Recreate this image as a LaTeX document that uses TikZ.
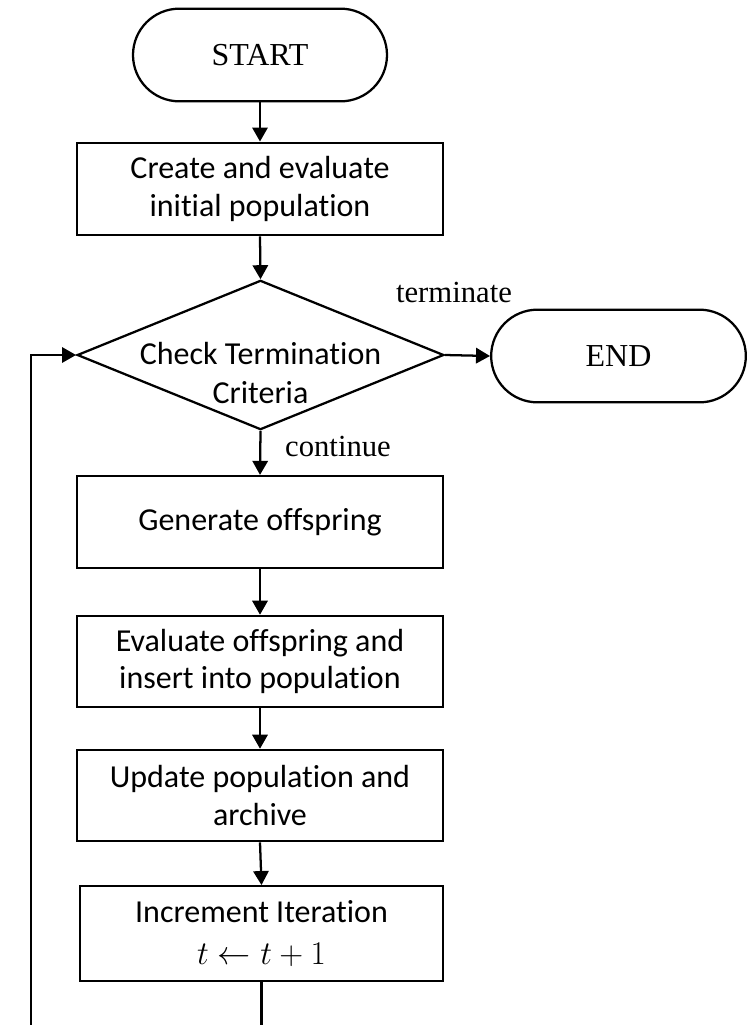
\documentclass[tikz,border=0pt]{standalone}
\usepackage{fontspec}
\setmainfont{Liberation Serif}
\newfontfamily\boxfont[Ligatures=NoCommon]{Carlito}
\usetikzlibrary{shapes.misc,shapes.geometric,arrows.meta}
\begin{document}
\begin{tikzpicture}[x=0.75pt,y=-0.75pt,
  line width=1.7pt,
  flow/.style={-{Triangle[length=10.5pt,width=11.5pt]}},
  terminal/.style={draw,rounded rectangle,rounded rectangle arc length=180,
    minimum width=190.5pt,minimum height=69.5pt,inner sep=0pt,font=\fontsize{24}{28}\selectfont},
  stepbox/.style={draw,rectangle,minimum width=274.5pt,minimum height=69.5pt,inner sep=0pt,
    align=center,font=\boxfont\fontsize{24}{28}\selectfont},
  decision/.style={draw,diamond,minimum width=275pt,minimum height=112pt,inner sep=0pt},
  tag/.style={font=\fontsize{23}{27}\selectfont,inner sep=0pt}]
\useasboundingbox (0,0) rectangle (749,1025);

% nodes
\node[terminal] (start) at (260,55) {START};
\node[stepbox] (init) at (260,189) {Create and evaluate\\initial population};
\node[decision] (check) at (260.5,355) {};
\node[align=center,font=\boxfont\fontsize{24}{29}\selectfont] (checktext) at (260.5,373) {Check Termination\\Criteria};
\node[terminal,minimum width=191pt] (end) at (618.5,356) {END};
\node[stepbox,minimum height=69pt] (gen) at (260,522) {Generate offspring};
\node[stepbox,minimum height=68.5pt] (evalo) at (260,661.5) {Evaluate offspring and\\insert into population};
\node[stepbox,minimum height=68.5pt] (upd) at (260,795.5) {Update population and\\archive};
\node[stepbox,minimum width=272.5pt,minimum height=71pt] (inc) at (261.5,933.5)
  {Increment Iteration\\[3pt]{\fontsize{26}{28}\selectfont$t \leftarrow t+1$}};

% labels on the branches
\node[tag,anchor=base] (termlab) at (454,302) {terminate};
\node[tag,anchor=base] (contlab) at (338,456) {continue};

% loop-back ends at the lower edge
\coordinate (incfoot) at (261.5,1025);
\coordinate (loopfoot) at (31,1025);
\coordinate (loopturn) at (31,355);

% connectors
\draw[flow] (start.south) -- (init.north);
\draw[flow] (init.south) -- (check.north);
\draw[flow] (check.east) -- (end.west);
\draw[flow] (check.south) -- (gen.north);
\draw[flow] (gen.south) -- (evalo.north);
\draw[flow] (evalo.south) -- (upd.north);
\draw[flow] (upd.south) -- (inc.north);
\draw (inc.south) -- (incfoot);
\draw[flow] (loopfoot) -- (loopturn) -- (check.west);
\end{tikzpicture}
\end{document}
